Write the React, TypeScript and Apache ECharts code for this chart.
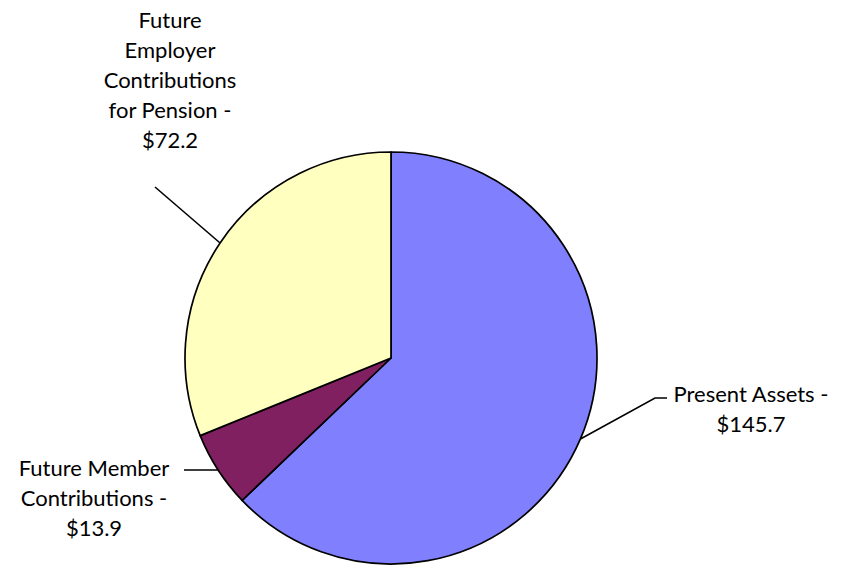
import React, { useEffect, useRef } from "react";
import * as echarts from "echarts";

const categories = [
  "Present Assets",
  "Future Member\nContributions",
  "Future\nEmployer\nContributions\nfor Pension",
];
const values = [145.7, 13.9, 72.2];
const colors = ["#8080FF", "#802060", "#FFFFC0"];

// label anchor positions (centre of text block) and leader-line bends
const labelPos = [
  { x: 751, y: 408, bend: [[655, 398], [667, 398]] },
  { x: 94, y: 497, bend: [[216, 470], [184, 470]] },
  { x: 170, y: 79, bend: [[155, 187], [155, 187]] },
];

export default function App() {
  const ref = useRef<HTMLDivElement>(null);
  useEffect(() => {
    const chart = echarts.init(ref.current!, null, { renderer: "svg" });
    chart.setOption({
      animation: false,
      backgroundColor: "#ffffff",
      series: [
        {
          type: "pie",
          center: [391, 358],
          radius: 206,
          startAngle: 90,
          clockwise: true,
          data: categories.map((c, i) => ({
            name: c,
            value: values[i],
            itemStyle: { color: colors[i] },
          })),
          itemStyle: { borderColor: "#000", borderWidth: 1.7 },
          label: {
            show: true,
            formatter: (p: any) => `${p.name} -\n$${p.value.toFixed(1)}`,
            color: "#000",
            fontFamily: "Lato",
            fontSize: 22,
            lineHeight: 30,
            align: "center",
          },
          labelLine: {
            show: true,
            lineStyle: { color: "#000", width: 1.6 },
          },
          labelLayout: (p: any) => {
            const lp = labelPos[p.dataIndex];
            const start = p.labelLinePoints ? p.labelLinePoints[0] : lp.bend[0];
            return {
              x: lp.x,
              y: lp.y,
              align: "center",
              verticalAlign: "middle",
              labelLinePoints: [start, lp.bend[0], lp.bend[1]],
            };
          },
          emphasis: { disabled: true },
        },
      ],
    });
    return () => chart.dispose();
  }, []);
  return (
    <div
      ref={ref}
      style={{ position: "fixed", left: 0, top: 0, width: 848, height: 565 }}
    />
  );
}
